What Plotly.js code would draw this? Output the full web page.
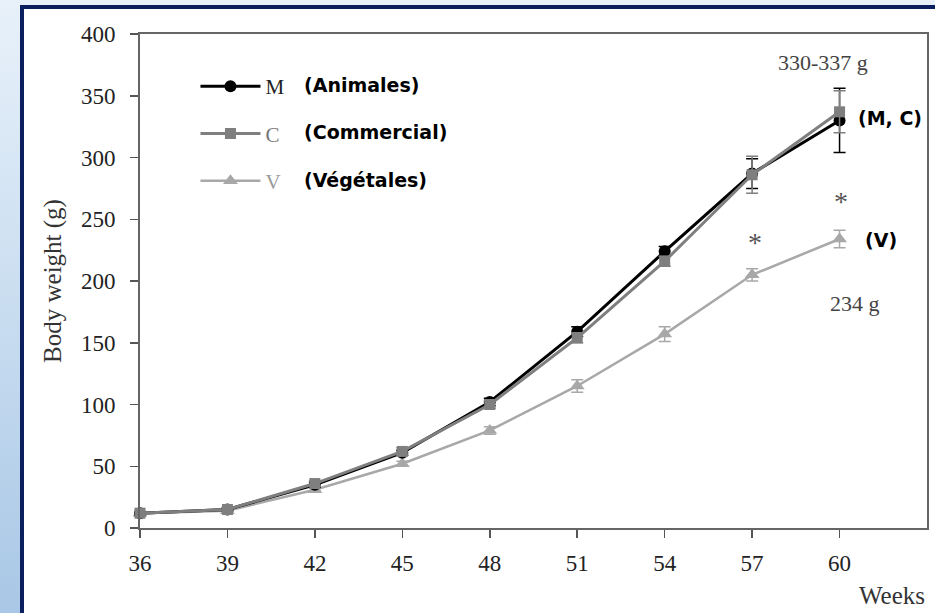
<!DOCTYPE html>
<html>
<head>
<meta charset="utf-8">
<script src="https://cdn.plot.ly/plotly-3.0.1.min.js"></script>
<style>
  html, body { margin:0; padding:0; width:935px; height:613px; overflow:hidden; }
  body { background: linear-gradient(to bottom, #e8f1fa 0%, #c9ddf0 50%, #a9c7e6 100%); position:relative; }
  #frame { position:absolute; left:20px; top:5px; width:940px; height:640px; background:#fff;
           border-left:4px solid #0b1f5e; border-top:4px solid #0b1f5e; box-sizing:border-box; }
  #chart { position:absolute; left:0; top:0; width:935px; height:613px; }
</style>
</head>
<body>
<div id="frame"></div>
<div id="chart"></div>
<script>
// ---- data ----
const weeks = [36, 39, 42, 45, 48, 51, 54, 57, 60];
const tickWeeks = [36, 39, 42, 45, 48, 51, 54, 57, 60];

const seriesM = [12, 15, 35, 61, 102, 159, 224, 287, 330];
const errM    = [1, 1, 2, 2, 3, 4, 4, 12, 26];

const seriesC = [12, 15, 36, 62, 100, 154, 216, 286, 337];
const errC    = [1, 1, 2, 3, 3, 4, 4, 15, 17];

const seriesV = [12, 14, 31, 52, 79, 115, 157, 205, 234];
const errV    = [1, 1, 1, 2, 3, 5, 6, 5, 7];

const names = ['M', 'C', 'V'];
const groupLabels = ['(Animales)', '(Commercial)', '(Végétales)'];

const colM = '#000000', colC = '#7f7f7f', colV = '#a8a8a8';

function trace(y, err, name, color, symbol, size, lw, rank) {
  return {
    x: weeks, y: y, name: name, type: 'scatter', mode: 'lines+markers',
    legendgroup: 'g' + rank, legendrank: rank,
    line: {color: color, width: lw},
    marker: {color: color, symbol: symbol, size: size},
    error_y: {type: 'data', array: err, visible: true, color: color, thickness: 1.5, width: 6},
    cliponaxis: false
  };
}

const data = [
  trace(seriesV, errV, '<span style="color:#9a9a9a">' + names[2] + '</span>', colV, 'triangle-up', 13, 2.5, 3),
  trace(seriesM, errM, '<span style="color:#222">' + names[0] + '</span>', colM, 'circle', 12, 3, 1),
  trace(seriesC, errC, '<span style="color:#777">' + names[1] + '</span>', colC, 'square', 11, 3, 2)
];

const serif = 'Liberation Serif, Times New Roman, serif';
const boldSans = 'DejaVu Sans, sans-serif';

const L = 139.5, R = 927, T = 34, B = 528;
const px = v => (v - L) / (R - L);
const py = v => (B - v) / (B - T);

const annotations = [
  {text: '<b>' + groupLabels[0] + '</b>', xref: 'paper', yref: 'paper', x: px(302), y: py(85), xanchor: 'left', yanchor: 'middle', showarrow: false, font: {family: boldSans, size: 19, color: '#000'}},
  {text: '<b>' + groupLabels[1] + '</b>', xref: 'paper', yref: 'paper', x: px(302), y: py(132), xanchor: 'left', yanchor: 'middle', showarrow: false, font: {family: boldSans, size: 19, color: '#000'}},
  {text: '<b>' + groupLabels[2] + '</b>', xref: 'paper', yref: 'paper', x: px(302), y: py(180), xanchor: 'left', yanchor: 'middle', showarrow: false, font: {family: boldSans, size: 19, color: '#000'}},
  {text: '<b>(M, C)</b>', xref: 'x', yref: 'y', x: 60.56, y: 332, xanchor: 'left', yanchor: 'middle', showarrow: false, font: {family: boldSans, size: 19, color: '#000'}},
  {text: '<b>(V)</b>', xref: 'x', yref: 'y', x: 60.8, y: 233, xanchor: 'left', yanchor: 'middle', showarrow: false, font: {family: boldSans, size: 19, color: '#000'}},
  {text: '330-337 g', xref: 'x', yref: 'y', x: 59.44, y: 377, xanchor: 'center', yanchor: 'middle', showarrow: false, font: {family: serif, size: 22, color: '#444'}},
  {text: '234 g', xref: 'x', yref: 'y', x: 60.53, y: 182, xanchor: 'center', yanchor: 'middle', showarrow: false, font: {family: serif, size: 22, color: '#444'}},
  {text: '*', xref: 'x', yref: 'y', x: 57.1, y: 231, xanchor: 'center', yanchor: 'middle', showarrow: false, font: {family: serif, size: 28, color: '#555'}},
  {text: '*', xref: 'x', yref: 'y', x: 60.05, y: 264, xanchor: 'center', yanchor: 'middle', showarrow: false, font: {family: serif, size: 28, color: '#555'}},
  {text: 'Weeks', xref: 'paper', yref: 'paper', x: px(892), y: py(595), xanchor: 'center', yanchor: 'middle', showarrow: false, font: {family: serif, size: 25, color: '#333'}}
];

const layout = {
  width: 935, height: 613,
  margin: {l: L, r: 935 - R, t: T, b: 613 - B, pad: 0},
  paper_bgcolor: 'rgba(0,0,0,0)',
  plot_bgcolor: '#fff',
  showlegend: true,
  legend: {
    x: px(195), y: py(66), xanchor: 'left', yanchor: 'top',
    bgcolor: 'rgba(0,0,0,0)', borderwidth: 0,
    font: {family: serif, size: 21, color: '#333'},
    tracegroupgap: 17, itemwidth: 60, traceorder: 'grouped'
  },
  xaxis: {
    range: [36, 63], tickvals: tickWeeks, ticktext: tickWeeks.map(String),
    showgrid: false, zeroline: false,
    showline: true, linecolor: '#666', linewidth: 2, mirror: true,
    ticks: 'outside', ticklen: 8, tickwidth: 1.5, tickcolor: '#555',
    ticklabelstandoff: 5,
    tickfont: {family: serif, size: 23, color: '#222'}
  },
  yaxis: {
    range: [0, 400], dtick: 50, tick0: 0,
    showgrid: false, zeroline: false,
    showline: true, linecolor: '#666', linewidth: 2, mirror: true,
    ticks: 'outside', ticklen: 8, tickwidth: 1.5, tickcolor: '#555',
    ticklabelstandoff: 10,
    tickfont: {family: serif, size: 23, color: '#222'},
    title: {text: 'Body weight (g)', font: {family: serif, size: 25, color: '#333'}, standoff: 12}
  },
  annotations: annotations
};

Plotly.newPlot('chart', data, layout, {displayModeBar: false, staticPlot: true});
</script>
</body>
</html>
